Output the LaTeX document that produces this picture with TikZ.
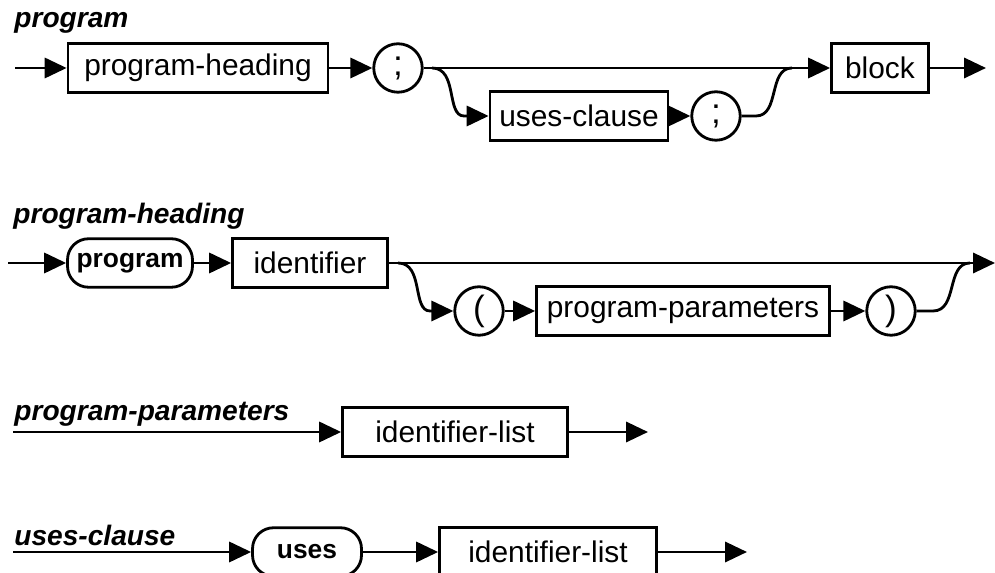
\documentclass[tikz,border=0pt]{standalone}
\usepackage{fontspec}
\setmainfont{Liberation Sans}
\usetikzlibrary{arrows.meta}

\begin{document}
\begin{tikzpicture}[x=0.02cm, y=-0.02cm, line width=1.6pt,
	every node/.style={font=\fontsize{17}{20}\selectfont, inner sep=0pt},
	nt/.style={draw, rectangle, minimum height=0.97cm},
	kw/.style={draw, rectangle, rounded corners=0.42cm, minimum height=0.97cm, font=\fontsize{15}{18}\selectfont\bfseries},
	sym/.style={draw, circle, minimum size=0.97cm, font=\fontsize{20}{22}\selectfont},
	ttl/.style={anchor=base west, font=\fontsize{16}{19}\selectfont\bfseries\itshape},
	arr/.style={-{Triangle[length=12.5pt, width=11.5pt]}}]
	\useasboundingbox (0,0) rectangle (995,573);
	% program
	\node[ttl] (tProg) at (13,28) {program};
	\coordinate (s1) at (15,68);
	\node[nt, minimum width=5.2cm] (ph) at (198,68) {program-heading};
	\node[sym] (semiA) at (398,68) {;};
	\node[nt, minimum width=3.56cm] (uc) at (579,116) {uses-clause};
	\node[sym] (semiB) at (716,116) {;};
	\node[nt, minimum width=1.94cm] (blk) at (880,68) {block};
	\coordinate (e1) at (986,68);
	\coordinate (b1) at (432,68);
	\coordinate (m1) at (756,116);
	\coordinate (j1) at (792,68);
	\foreach \a/\b in {s1/ph, ph/semiA, semiA/blk, uc/semiB, blk/e1} {\draw[arr] (\a) -- (\b);}
	\draw[arr] (b1) .. controls (458,68) and (446,116) .. (464,116) -- (uc);
	\draw (semiB) -- (m1) .. controls (780,116) and (768,68) .. (j1);
	% program-heading
	\node[ttl] (tHead) at (12,224) {program-heading};
	\coordinate (s2) at (8,263);
	\node[kw, minimum width=2.5cm] (kProg) at (130,263) {program};
	\node[nt, minimum width=3.1cm] (idf) at (310,263) {identifier};
	\coordinate (e2) at (995,263);
	\coordinate (b2) at (398,263);
	\node[sym] (lpar) at (479,311) {(};
	\node[nt, minimum width=5.86cm] (pp) at (683,311) {program-parameters};
	\node[sym] (rpar) at (891,311) {)};
	\coordinate (m2) at (933,311);
	\coordinate (j2) at (970,263);
	\foreach \a/\b in {s2/kProg, kProg/idf, idf/e2, lpar/pp, pp/rpar} {\draw[arr] (\a) -- (\b);}
	\draw[arr] (b2) .. controls (424,263) and (412,311) .. (430,311) -- (lpar);
	\draw (rpar) -- (m2) .. controls (958,311) and (946,263) .. (j2);
	% program-parameters
	\node[ttl] (tPar) at (13,421) {program-parameters};
	\coordinate (s3) at (13,432);
	\node[nt, minimum width=4.5cm] (il1) at (455,432) {identifier-list};
	\coordinate (e3) at (648,432);
	% uses-clause
	\node[ttl] (tUses) at (13,546) {uses-clause};
	\coordinate (s4) at (13,552);
	\node[kw, minimum width=2.18cm] (kUses) at (307,552) {uses};
	\node[nt, minimum width=4.34cm] (il2) at (548,552) {identifier-list};
	\coordinate (e4) at (747,552);
	\foreach \a/\b in {s3/il1, il1/e3, s4/kUses, kUses/il2, il2/e4} {\draw[arr] (\a) -- (\b);}
\end{tikzpicture}
\end{document}
